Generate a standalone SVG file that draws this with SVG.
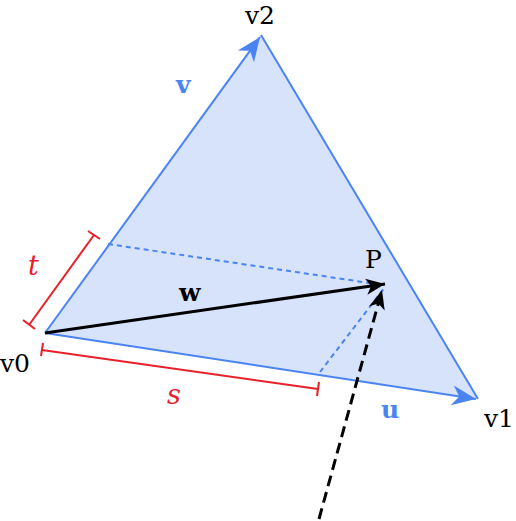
<svg xmlns="http://www.w3.org/2000/svg" width="516" height="521" viewBox="0 0 516 521">
<style>
text{font-family:"DejaVu Serif","Liberation Serif",serif;font-size:25px}
.lbl{fill:#000}
.vec{fill:#4a84f2;font-weight:bold;font-size:25px}
.par{fill:#e8202a;font-style:italic;font-size:27px}
.edge{stroke:#4a84f2;stroke-width:2;fill:none}
.dot{stroke:#4a84f2;stroke-width:2;fill:none;stroke-dasharray:5 4}
.brk{stroke:#e8202a;stroke-width:2;fill:none}
</style>
<defs>
<marker id="ab" markerUnits="userSpaceOnUse" viewBox="-26 -12 28 24" markerWidth="28" markerHeight="24" refX="0" refY="0" orient="auto">
<path d="M0,0 L-24,-10 L-17,0 L-24,10 Z" fill="#4a84f2"/>
</marker>
<marker id="ak" markerUnits="userSpaceOnUse" viewBox="-22 -11 24 22" markerWidth="24" markerHeight="22" refX="0" refY="0" orient="auto">
<path d="M0,0 L-19,-8 L-14,0 L-19,8 Z" fill="#000"/>
</marker>
</defs>
<g id="triangle">
<polygon points="45,333 478,399 261,35" fill="#d6e3fb"/>
</g>
<g id="connectors">
<line class="edge" x1="261" y1="35" x2="478" y2="399"/>
<line class="edge" x1="45" y1="333" x2="476" y2="399" marker-end="url(#ab)"/>
<line class="edge" x1="45" y1="333" x2="260" y2="37" marker-end="url(#ab)"/>
<line class="dot" x1="108" y1="244" x2="383" y2="285"/>
<line class="dot" x1="320" y1="372" x2="385" y2="287"/>
<line stroke="#000" stroke-width="3" x1="45" y1="333" x2="385" y2="284" marker-end="url(#ak)"/>
<line stroke="#000" stroke-width="3" stroke-dasharray="11 6" x1="319" y1="519" x2="382" y2="290" marker-end="url(#ak)"/>
<g id="bracket-t">
<line class="brk" x1="94" y1="235" x2="29" y2="325"/>
<line class="brk" x1="88" y1="231" x2="100" y2="239"/>
<line class="brk" x1="23" y1="320" x2="35" y2="329"/>
</g>
<g id="bracket-s">
<line class="brk" x1="42" y1="350" x2="318" y2="389"/>
<line class="brk" x1="43" y1="343" x2="41" y2="356"/>
<line class="brk" x1="319" y1="382" x2="317" y2="396"/>
</g>
</g>
<g id="v0"><text class="lbl" x="0" y="372">v0</text></g>
<g id="v1"><text class="lbl" x="484" y="427">v1</text></g>
<g id="v2"><text class="lbl" x="245" y="24">v2</text></g>
<g id="P"><text class="lbl" x="365" y="268">P</text></g>
<g id="w"><text class="lbl" x="179" y="301" font-weight="bold" font-size="25">w</text></g>
<g id="u"><text class="vec" x="381" y="418">u</text></g>
<g id="v"><text class="vec" x="176" y="93">v</text></g>
<g id="t"><text class="par" x="28" y="275">t</text></g>
<g id="s"><text class="par" x="167" y="404">s</text></g>
</svg>
